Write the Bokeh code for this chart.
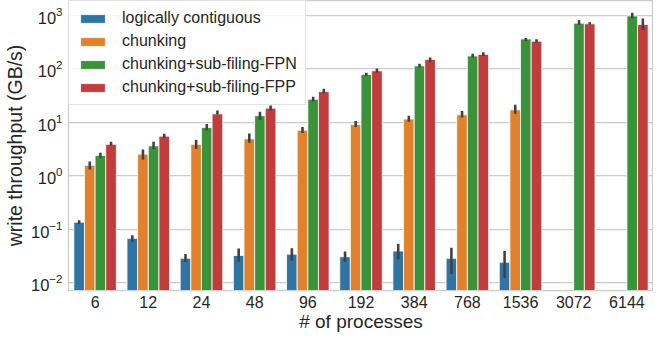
import numpy as np
from bokeh.plotting import figure
from bokeh.models import ColumnDataSource, FactorRange, Range1d, Legend, LegendItem, FixedTicker
from bokeh.transform import dodge
from bokeh.embed import file_html
from bokeh.resources import INLINE

nan = float("nan")

procs = ["6", "12", "24", "48", "96", "192", "384", "768", "1536", "3072", "6144"]
series = ["logically contiguous", "chunking", "chunking+sub-filing-FPN", "chunking+sub-filing-FPP"]
colors = ["#3274a1", "#e1812c", "#3a923a", "#c03d3e"]
yticks = [0.01, 0.1, 1, 10, 100, 1000]

contig = [0.136, 0.068, 0.0288, 0.0325, 0.0344, 0.0308, 0.0394, 0.0288, 0.0243, nan, nan]
contig_lo = [0.125, 0.059, 0.0247, 0.0248, 0.0259, 0.0245, 0.0273, 0.0146, 0.0124, nan, nan]
contig_hi = [0.148, 0.078, 0.0346, 0.0439, 0.0444, 0.0387, 0.0538, 0.0453, 0.0394, nan, nan]

chunk = [1.57, 2.54, 3.88, 4.91, 7.11, 9.06, 11.5, 13.8, 17.1, nan, nan]
chunk_lo = [1.32, 2.03, 3.18, 4.14, 6.35, 8.2, 10.3, 12.3, 14.4, nan, nan]
chunk_hi = [1.86, 3.10, 4.73, 6.17, 8.2, 10.6, 13.2, 16.2, 21.4, nan, nan]

fpn = [2.40, 3.62, 7.98, 13.3, 27.0, 78.5, 113.5, 173.5, 361, 713, 972]
fpn_lo = [2.17, 3.19, 7.03, 11.2, 24.5, 73.1, 106, 162, 331, 664, 880]
fpn_hi = [2.69, 4.35, 9.31, 15.8, 30.2, 84.3, 124, 191, 376, 810, 1120]

fpp = [3.88, 5.52, 14.4, 18.4, 37.5, 91.8, 148.5, 186, 328, 692, 673]
fpp_lo = [3.67, 5.07, 14.0, 16.7, 34.9, 85.5, 136, 174, 307, 663, 537]
fpp_hi = [4.35, 6.09, 16.6, 20.6, 42.6, 101, 162, 203, 357, 743, 868]

values = [contig, chunk, fpn, fpp]
lows = [contig_lo, chunk_lo, fpn_lo, fpp_lo]
highs = [contig_hi, chunk_hi, fpn_hi, fpp_hi]

FONT = "Liberation Sans"
TXT = "#262626"

p = figure(width=653, height=334,
           x_range=FactorRange(*procs, range_padding=0),
           y_axis_type="log",
           y_range=Range1d(10 ** -2.142, 10 ** 3.276),
           output_backend="svg", toolbar_location=None,
           min_border_left=60, min_border_right=0, min_border_top=0, min_border_bottom=0)

p.background_fill_color = "white"
p.outline_line_color = "#cccccc"
p.outline_line_width = 1.25
p.xgrid.grid_line_color = None
p.ygrid.grid_line_color = "#cccccc"
p.ygrid.grid_line_width = 1.25

p.yaxis.ticker = FixedTicker(ticks=yticks)
for ax in (p.xaxis[0], p.yaxis[0]):
    ax.axis_line_color = None
    ax.major_tick_line_color = None
    ax.minor_tick_line_color = None
    ax.major_tick_out = 0
    ax.major_tick_in = 0
    ax.major_label_text_font = FONT
    ax.major_label_text_color = TXT
    ax.axis_label_text_font = FONT
    ax.axis_label_text_color = TXT
    ax.axis_label_text_font_style = "normal"

p.xaxis.major_label_text_font_size = "16px"
p.yaxis.major_label_text_font_size = "16.5px"
p.xaxis.major_label_standoff = 5
p.yaxis.major_label_standoff = 6
p.xaxis.axis_label = "# of processes"
p.yaxis.axis_label = "write throughput (GB/s)"
p.xaxis.axis_label_text_font_size = "19px"
p.yaxis.axis_label_text_font_size = "19.5px"
p.xaxis.axis_label_standoff = 0
p.yaxis.axis_label_standoff = 2

width = 0.2
offsets = [-0.3, -0.1, 0.1, 0.3]
items = []
for name, col, off, v, lo, hi in zip(series, colors, offsets, values, lows, highs):
    src = ColumnDataSource(dict(x=procs, top=np.array(v, dtype=float),
                                lo=np.array(lo, dtype=float), hi=np.array(hi, dtype=float),
                                bottom=np.full(len(procs), 1e-4)))
    r = p.vbar(x=dodge("x", off, range=p.x_range), top="top", bottom="bottom", width=width,
               source=src, fill_color=col, line_color="white", line_width=0.8)
    p.segment(x0=dodge("x", off, range=p.x_range), y0="lo",
              x1=dodge("x", off, range=p.x_range), y1="hi",
              source=src, line_color="#424242", line_width=2.6)
    items.append(LegendItem(label=name, renderers=[r]))

legend = Legend(items=items, location="top_left", margin=0, padding=8,
                glyph_width=31, glyph_height=11, label_standoff=14, spacing=5,
                label_text_font=FONT, label_text_font_size="16px", label_text_color=TXT,
                border_line_color="#cccccc", border_line_width=1,
                background_fill_color="white", background_fill_alpha=0.85)
p.add_layout(legend)

open("out.html", "w").write(file_html(p, INLINE))
